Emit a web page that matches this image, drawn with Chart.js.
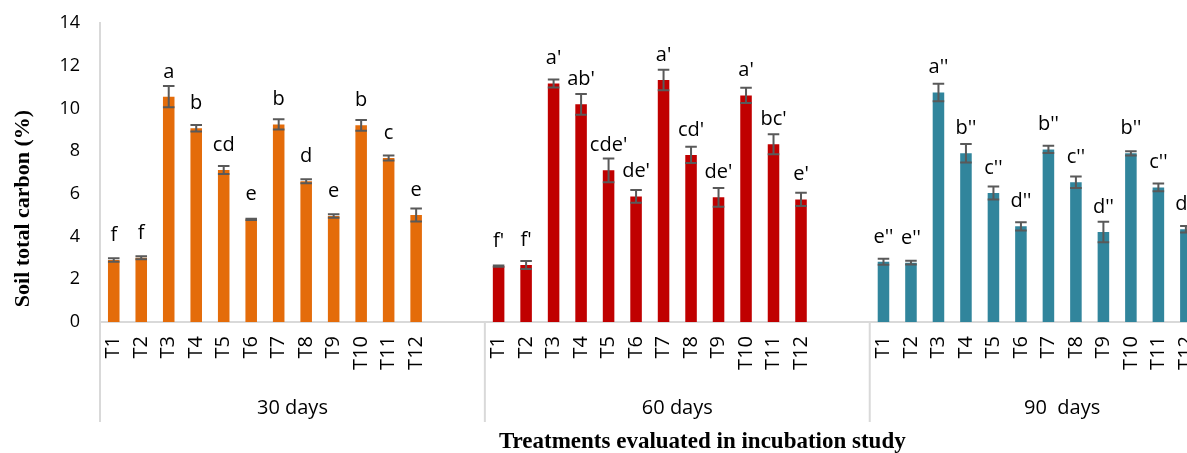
<!DOCTYPE html>
<html><head><meta charset="utf-8">
<script src="https://cdn.jsdelivr.net/npm/chart.js@4/dist/chart.umd.min.js"></script>
<style>
html,body{margin:0;padding:0;background:#fff;overflow:hidden;}
#wrap{position:relative;width:1279px;height:453px;}
</style></head><body>
<div id="wrap"><canvas id="c"></canvas></div>
<script>
const treatments = ['T1','T2','T3','T4','T5','T6','T7','T8','T9','T10','T11','T12'];
const periods = ['30 days','60 days','90  days'];
const yTicks = [0,2,4,6,8,10,12,14];

const totalC30 = [2.90,3.01,10.55,9.07,7.12,4.81,9.25,6.59,4.96,9.21,7.68,5.01];
const err30    = [0.08,0.07,0.50,0.15,0.19,0.03,0.24,0.09,0.08,0.25,0.12,0.30];
const letters30 = ['f','f','a','b','cd','e','b','d','e','b','c','e'];

const totalC60 = [2.62,2.67,11.17,10.19,7.10,5.88,11.33,7.82,5.84,10.61,8.32,5.74];
const err60    = [0.03,0.19,0.19,0.49,0.56,0.30,0.48,0.38,0.44,0.36,0.47,0.31];
const letters60 = ["f'","f'","a'","ab'","cde'","de'","a'","cd'","de'","a'","bc'","e'"];

const totalC90 = [2.82,2.78,10.75,7.90,6.04,4.48,8.08,6.54,4.21,7.90,6.30,4.34];
const err90    = [0.14,0.09,0.41,0.43,0.31,0.19,0.17,0.27,0.48,0.10,0.18,0.15];
const letters90 = ["e''","e''","a''","b''","c''","d''","b''","c''","d''","b''","c''","d''"];

const colors = ['#E46C0A','#C00000','#31859C'];
const SLOTS = treatments.length + 2;
const labels = [];
periods.forEach(() => { labels.push(...treatments, '', ''); });
function place(arr, g) {
  const out = new Array(labels.length).fill(null);
  arr.forEach((v, i) => { out[g * SLOTS + i] = v; });
  return out;
}
const series = [[totalC30, err30, letters30], [totalC60, err60, letters60], [totalC90, err90, letters90]];
const datasets = series.map((s, g) => ({
  label: periods[g],
  data: place(s[0], g),
  errs: place(s[1], g),
  letters: place(s[2], g),
  backgroundColor: colors[g],
  grouped: false,
  barPercentage: 0.42,
  categoryPercentage: 1
}));

const FONT = '"Open Sans", "Noto Sans", sans-serif';
const SERIF = '"Liberation Serif", "DejaVu Serif", serif';

const decor = {
  id: 'decor',
  afterDatasetsDraw(chart) {
    const ctx = chart.ctx, y = chart.scales.y;
    ctx.save();
    chart.data.datasets.forEach((ds, di) => {
      const meta = chart.getDatasetMeta(di);
      meta.data.forEach((bar, i) => {
        const v = ds.data[i];
        if (v == null) return;
        const e = ds.errs[i];
        const yT = y.getPixelForValue(v + e), yB = y.getPixelForValue(v - e);
        const w = bar.width;
        ctx.strokeStyle = '#595959'; ctx.lineWidth = 2;
        ctx.beginPath();
        ctx.moveTo(bar.x, yT); ctx.lineTo(bar.x, yB);
        ctx.moveTo(bar.x - w / 2, yT); ctx.lineTo(bar.x + w / 2, yT);
        ctx.moveTo(bar.x - w / 2, yB); ctx.lineTo(bar.x + w / 2, yB);
        ctx.stroke();
        ctx.fillStyle = '#000';
        ctx.font = '20px ' + FONT;
        ctx.textAlign = 'center'; ctx.textBaseline = 'alphabetic';
        ctx.fillText(ds.letters[i], bar.x, bar.y - 19);
      });
    });
    ctx.restore();
  },
  afterDraw(chart) {
    const ctx = chart.ctx, xs = chart.scales.x;
    const slot = xs.getPixelForValue(1) - xs.getPixelForValue(0);
    const ca = chart.chartArea;
    ctx.save();
    ctx.strokeStyle = '#D9D9D9'; ctx.lineWidth = 2;
    for (let g = 0; g <= periods.length; g++) {
      const bx = xs.getPixelForValue(g * SLOTS) - slot / 2;
      ctx.beginPath(); ctx.moveTo(bx, xs.top); ctx.lineTo(bx, xs.top + 100); ctx.stroke();
    }
    ctx.fillStyle = '#000';
    ctx.font = '20px ' + FONT;
    ctx.textAlign = 'center'; ctx.textBaseline = 'alphabetic';
    periods.forEach((p, g) => {
      const cx = (xs.getPixelForValue(g * SLOTS) + xs.getPixelForValue(g * SLOTS + SLOTS - 1)) / 2;
      ctx.fillText(p, cx, xs.top + 92);
    });
    ctx.font = 'bold 23px ' + SERIF;
    ctx.fillText('Treatments evaluated in incubation study', (ca.left + ca.right) / 2 + 25, chart.height - 5);
    // y-axis title
    ctx.save();
    ctx.translate(23, (ca.top + ca.bottom) / 2 + 36);
    ctx.rotate(-Math.PI / 2);
    ctx.font = 'bold 22px ' + SERIF;
    ctx.textBaseline = 'middle';
    ctx.fillText('Soil total carbon (%)', 0, 0);
    ctx.restore();
    ctx.restore();
  }
};

new Chart(document.getElementById('c'), {
  type: 'bar',
  data: { labels, datasets },
  plugins: [decor],
  options: {
    responsive: true,
    maintainAspectRatio: false,
    animation: false,
    layout: { padding: { top: 23, right: 12, bottom: 0, left: 0 } },
    plugins: { legend: { display: false }, tooltip: { enabled: false } },
    scales: {
      x: {
        grid: { display: false, drawTicks: false },
        border: { display: true, color: '#D9D9D9', width: 2 },
        ticks: { autoSkip: false, minRotation: 90, maxRotation: 90, padding: 14, color: '#000', font: { family: FONT, size: 20 } },
        afterFit(s) { s.height = 131; }
      },
      y: {
        min: 0, max: 14,
        afterBuildTicks(s) { s.ticks = yTicks.map(v => ({ value: v })); },
        grid: { display: false, drawTicks: false },
        border: { display: true, color: '#D9D9D9', width: 2 },
        ticks: { padding: 20, color: '#000', font: { family: FONT, size: 18 } },
        afterFit(s) { s.width = 100; s.paddingTop = 0; s.paddingBottom = 0; }
      }
    }
  }
});
</script>
</body></html>
